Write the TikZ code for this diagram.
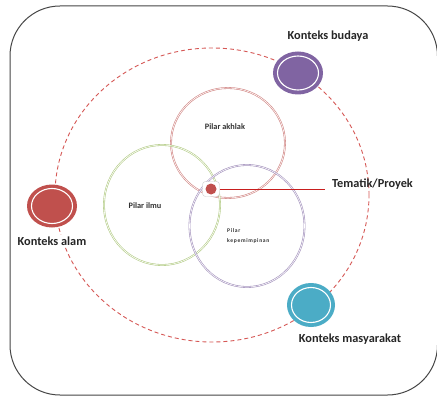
\documentclass[tikz,border=0pt]{standalone}
\usepackage{fontspec}
\setmainfont{Carlito}
\newfontfamily\spacedfont[LetterSpace=12]{Carlito}
\usetikzlibrary{shapes.geometric}
\definecolor{orbitred}{RGB}{214,88,86}
\definecolor{budayac}{RGB}{128,100,162}
\definecolor{alamc}{RGB}{192,80,77}
\definecolor{masyc}{RGB}{75,172,198}
\definecolor{akhlakc}{RGB}{210,135,133}
\definecolor{ilmuc}{RGB}{180,204,135}
\definecolor{pimpc}{RGB}{165,148,190}
\definecolor{framec}{RGB}{70,70,70}
\definecolor{linkred}{RGB}{200,30,30}
\tikzset{
  ctx/.style={ellipse, minimum width=50pt, minimum height=43pt, inner sep=0pt},
  ring/.style={white, line width=1.1pt},
  pilar/.style={ellipse, draw=#1, line width=0.6pt, double=white, double distance=0.6pt, inner sep=0pt},
  ctxlabel/.style={font=\bfseries\fontsize{12.3}{14}\selectfont, text=black!85, fill=white, inner sep=2pt},
  pilarlabel/.style={font=\bfseries\fontsize{8.3}{9}\selectfont, text=black!80, inner sep=0pt},
}
\begin{document}
\begin{tikzpicture}[x=1pt,y=-1pt]
\useasboundingbox (0,0) rectangle (437,396);
\fill[white] (0,0) rectangle (437,396);
% frame
\draw[framec, line width=1pt, rounded corners=50pt] (10,6) rectangle (437.5,395);
% orbit
\node[ellipse, draw=orbitred, line width=0.9pt, dash pattern=on 4pt off 3pt, minimum width=314pt, minimum height=294pt, inner sep=0pt] (orbit) at (212,195) {};
% pillars
\node[pilar=akhlakc, minimum width=114pt, minimum height=110pt] (akhlak) at (228,143) {};
\node[pilar=ilmuc, minimum width=116pt, minimum height=120pt] (ilmu) at (162,205) {};
\node[pilar=pimpc, minimum width=115pt, minimum height=122pt] (pimp) at (247,226) {};
\node[pilarlabel] (lakhlak) at (225,127) {Pilar akhlak};
\node[pilarlabel] (lilmu) at (145,206) {Pilar ilmu};
\node[pilarlabel, anchor=west, font=\spacedfont\bfseries\fontsize{5.6}{6}\selectfont] (lpilar) at (227,231) {Pilar};
\node[pilarlabel, anchor=west, font=\spacedfont\bfseries\fontsize{5.6}{6}\selectfont] (lpimp) at (227,241) {kepemimpinan};
% context circles
\node[ctx, fill=budayac] (budaya) at (298,73) {};
\draw[ring] (budaya.center) ellipse [x radius=20.5pt, y radius=17pt];
\node[ctx, fill=alamc] (alam) at (52,206) {};
\draw[ring] (alam.center) ellipse [x radius=20.5pt, y radius=17.5pt];
\node[ctx, fill=masyc, minimum width=48pt, minimum height=44pt] (masy) at (311,305) {};
\draw[ring] (masy.center) ellipse [x radius=19.5pt, y radius=17.5pt];
\node[ctxlabel] (lbudaya) at (328,36) {Konteks budaya};
\node[ctxlabel] (lalam) at (52,241) {Konteks alam};
\node[ctxlabel] (lmasy) at (350,339) {Konteks masyarakat};
% centre marker
\node[draw=black!20, fill=white, rounded corners=3pt, minimum width=17pt, minimum height=15pt, inner sep=0pt] (hub) at (211,189) {};
\node[circle, fill=alamc, minimum size=11pt, inner sep=0pt] (dot) at (hub.center) {};
\coordinate (tend) at (325,189);
\draw[linkred, line width=1pt] (hub.east) -- (tend);
\node[anchor=west, font=\bfseries\fontsize{12.3}{14}\selectfont, text=black!85, inner sep=0pt] (ltem) at (332,184) {Tematik/Proyek};
\end{tikzpicture}
\end{document}
